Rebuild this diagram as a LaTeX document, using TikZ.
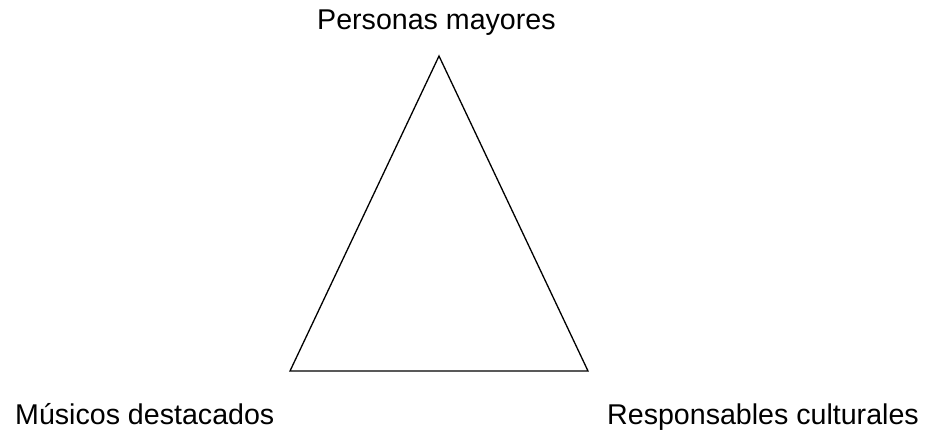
\documentclass[tikz,border=0pt]{standalone}
\usepackage{fontspec}
\setmainfont{Liberation Sans}
\begin{document}
\begin{tikzpicture}[x=1pt,y=-1pt,
  lbl/.style={inner sep=0pt,anchor=base west,font=\fontsize{28.6}{34}\selectfont},
  edge/.style={draw=black,line width=1.3pt,line join=miter}]
\useasboundingbox (0,0) rectangle (928,429);
\coordinate (top) at (439,56);
\coordinate (bl) at (290,371);
\coordinate (br) at (588,371);
\draw[edge] (top) -- (br) -- (bl) -- cycle;
\node[lbl] (t) at (317,29) {Personas mayores};
\node[lbl] (l) at (15,424) {Músicos destacados};
\node[lbl] (r) at (607,424) {Responsables culturales};
\end{tikzpicture}
\end{document}
